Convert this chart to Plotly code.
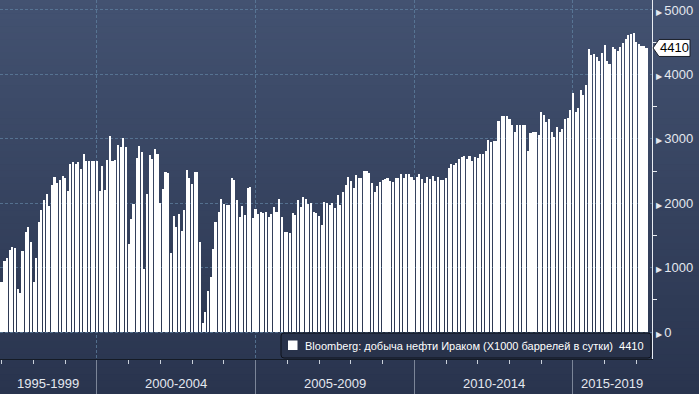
import pandas as pd
import plotly.graph_objects as go

# ---------------- data (thousand barrels per day, monthly) ----------------
first_month = "1996-12-01"
prod_1996 = [620]
prod_1997 = [780, 1100, 1150, 1270, 1320, 1300, 670, 610, 1260, 1550, 1630, 1400]
prod_1998 = [780, 1150, 1710, 1890, 2050, 2150, 1960, 2290, 2410, 2310, 2360, 2420]
prod_1999 = [2390, 2190, 2610, 2640, 2610, 2640, 2530, 2760, 2660, 2660, 2660, 2660]
prod_2000 = [2660, 2190, 2580, 2200, 2670, 3040, 2660, 2670, 2900, 2870, 3010, 2870]
prod_2001 = [1370, 1750, 1990, 2700, 2890, 2800, 980, 2140, 2750, 2690, 2840, 2760]
prod_2002 = [2000, 2220, 2480, 2470, 1230, 1800, 1630, 1830, 1570, 1890, 2520, 2390]
prod_2003 = [2300, 2480, 2480, 1400, 140, 310, 640, 850, 1290, 1710, 1860, 2070]
prod_2004 = [1990, 1970, 1970, 2390, 2360, 2050, 1790, 1960, 1820, 2240, 2250, 1770]
prod_2005 = [1910, 1830, 1860, 1850, 1860, 1790, 1830, 1940, 1860, 2070, 1790, 1550]
prod_2006 = [1550, 1540, 1850, 1820, 2050, 1940, 2100, 2070, 1990, 2000, 1860, 1850]
prod_2007 = [1800, 1660, 2020, 2000, 1970, 2000, 1930, 2130, 1970, 2170, 2280, 2410]
prod_2008 = [2340, 2240, 2440, 2390, 2390, 2500, 2500, 2470, 2310, 2170, 2270, 2330]
prod_2009 = [2360, 2380, 2390, 2340, 2330, 2390, 2390, 2450, 2390, 2450, 2450, 2410]
prod_2010 = [2360, 2410, 2450, 2380, 2310, 2410, 2380, 2420, 2340, 2410, 2360, 2360]
prod_2011 = [2390, 2550, 2610, 2590, 2620, 2690, 2720, 2730, 2690, 2730, 2660, 2720]
prod_2012 = [2700, 2760, 2760, 2810, 2980, 2950, 2970, 2970, 3280, 3350, 3350, 3350]
prod_2013 = [3310, 3210, 3110, 3210, 3210, 3210, 3210, 2810, 3090, 3110, 3110, 3060]
prod_2014 = [3420, 3370, 3260, 3310, 3110, 3030, 3180, 3110, 3150, 3310, 3320, 3450]
prod_2015 = [3710, 3420, 3480, 3760, 3680, 3840, 4390, 4300, 4320, 4270, 4210, 4330]
prod_2016 = [4460, 4210, 4160, 4430, 4390, 4360, 4430, 4490, 4550, 4610, 4630, 4640]
prod_2017 = [4500, 4470, 4440, 4440, 4410]

y_ticks = [0, 1000, 2000, 3000, 4000, 5000]
y_minor_ticks = [500, 1500, 2500, 3500, 4500]
period_labels = ["1995-1999", "2000-2004", "2005-2009", "2010-2014", "2015-2019"]
period_start_years = [1995, 2000, 2005, 2010, 2015]
legend_text = "Bloomberg: добыча нефти Ираком (X1000 баррелей в сутки)"

values = (prod_1996 + prod_1997 + prod_1998 + prod_1999 + prod_2000 + prod_2001 +
          prod_2002 + prod_2003 + prod_2004 + prod_2005 + prod_2006 + prod_2007 +
          prod_2008 + prod_2009 + prod_2010 + prod_2011 + prod_2012 + prod_2013 +
          prod_2014 + prod_2015 + prod_2016 + prod_2017)
months = pd.date_range(first_month, periods=len(values), freq="MS")
last_value = values[-1]

# ---------------- geometry / style ----------------
W, H = 699, 394
PW, PH = 652, 359          # plot area in pixels (starts at top-left corner)
x_range = [pd.Timestamp("1996-12-11"), pd.Timestamp("2017-06-29")]
y_range = [-419, 5155]
bar_width_ms = 23 * 86400000
grid_color = "rgba(95,128,160,0.75)"
text_color = "#e4e8ef"
FONT = "Liberation Sans, Arial, sans-serif"


def px(xp):
    return xp / PW


def py(yp):
    return (PH - yp) / PH


fig = go.Figure()
fig.add_trace(go.Bar(x=months, y=values, width=bar_width_ms,
                     marker=dict(color="#ffffff", line=dict(width=0)),
                     showlegend=False, hoverinfo="x+y"))

shapes = []
# background vertical gradient
top_c, bot_c = (67, 82, 113), (41, 52, 78)
n = 60
for i in range(n):
    t = (i + 0.5) / n
    c = tuple(round(top_c[k] + (bot_c[k] - top_c[k]) * t) for k in range(3))
    y0p = i * H / n
    y1p = (i + 1) * H / n + 0.6
    shapes.append(dict(type="rect", xref="paper", yref="paper",
                       x0=px(-2), x1=px(W + 2), y0=py(y1p), y1=py(y0p),
                       fillcolor="rgb(%d,%d,%d)" % c, line=dict(width=0), layer="below"))

# legend box (rounded)
lx0, lx1, ly0, ly1, r = 281, 651, 333, 358, 3
path = ("M {a},{b} L {c},{b} Q {x1},{b} {x1},{d} L {x1},{e} Q {x1},{y1} {c},{y1} "
        "L {a},{y1} Q {x0},{y1} {x0},{e} L {x0},{d} Q {x0},{b} {a},{b} Z").format(
    a=px(lx0 + r), b=py(ly0), c=px(lx1 - r), x1=px(lx1), d=py(ly0 + r), e=py(ly1 - r),
    y1=py(ly1), x0=px(lx0))
shapes.append(dict(type="path", xref="paper", yref="paper", path=path,
                   fillcolor="#29334b", line=dict(color="#0e121a", width=1)))
shapes.append(dict(type="rect", xref="paper", yref="paper",
                   x0=px(288), x1=px(297.5), y0=py(350), y1=py(340.5),
                   fillcolor="#ffffff", line=dict(width=0)))

# last value tag
ty = PH - (last_value - y_range[0]) / (y_range[1] - y_range[0]) * PH
tag = "M {p},{m} L {q},{t} L {r},{t} L {r},{b} L {q},{b} Z".format(
    p=px(653), q=px(659), r=px(690), m=py(ty), t=py(ty - 8.5), b=py(ty + 8.5))
shapes.append(dict(type="path", xref="paper", yref="paper", path=tag,
                   fillcolor="#ffffff", line=dict(color="#1a1f2a", width=1)))

annotations = []
for lab, yr in zip(period_labels, period_start_years):
    a = max(pd.Timestamp(year=yr, month=1, day=1), x_range[0])
    b = min(pd.Timestamp(year=yr + 5, month=1, day=1), x_range[1])
    mid = a + (b - a) / 2
    annotations.append(dict(x=mid, xref="x", y=py(383), yref="paper", text=lab,
                            showarrow=False, xanchor="center", yanchor="middle",
                            font=dict(family=FONT, size=13, color=text_color)))
annotations.append(dict(x=px(303), xref="paper", y=py(345.5), yref="paper",
                        text=legend_text + "\u00a0\u00a0" + str(last_value),
                        showarrow=False, xanchor="left", yanchor="middle",
                        font=dict(family=FONT, size=11, color="#ffffff")))
annotations.append(dict(x=px(674.5), xref="paper", y=last_value, yref="y",
                        text=str(last_value), showarrow=False, xanchor="center",
                        yanchor="middle", font=dict(family=FONT, size=13, color="#000000")))

y_ticktext = ["<span style='font-size:8px'>\u25b6</span>\u2009" + str(v) for v in y_ticks]

fig.update_layout(
    width=W, height=H,
    margin=dict(l=0, r=W - PW, t=0, b=H - PH, pad=0, autoexpand=False),
    paper_bgcolor="#36445f", plot_bgcolor="rgba(0,0,0,0)",
    bargap=0, showlegend=False,
    shapes=shapes, annotations=annotations,
    xaxis=dict(type="date", range=x_range, showgrid=True, gridcolor=grid_color,
               griddash="3px,2px", gridwidth=1, tick0="2000-01-01", dtick="M60",
               ticks="outside", ticklen=35, tickcolor="#7b8598", tickwidth=1,
               showticklabels=False, showline=True, linecolor="#151b26", linewidth=1,
               zeroline=False, fixedrange=True,
               minor=dict(tick0="2000-01-01", dtick="M12", ticks="outside", ticklen=4,
                          tickcolor="#c9d0db", tickwidth=1, showgrid=False)),
    yaxis=dict(range=y_range, side="right", tickvals=y_ticks, ticktext=y_ticktext,
               ticks="", tickfont=dict(family=FONT, size=13, color=text_color),
               showgrid=True, gridcolor=grid_color, griddash="3px,2px", gridwidth=1,
               zeroline=False, showline=True, linecolor="#e8ecf2", linewidth=1,
               fixedrange=True,
               minor=dict(tickvals=y_minor_ticks, ticks="outside", ticklen=4,
                          tickcolor="#e8ecf2", showgrid=False)),
)

fig.write_html("out.html", config={"displayModeBar": False},
               post_script="document.body.style.margin='0';document.body.style.overflow='hidden';")
